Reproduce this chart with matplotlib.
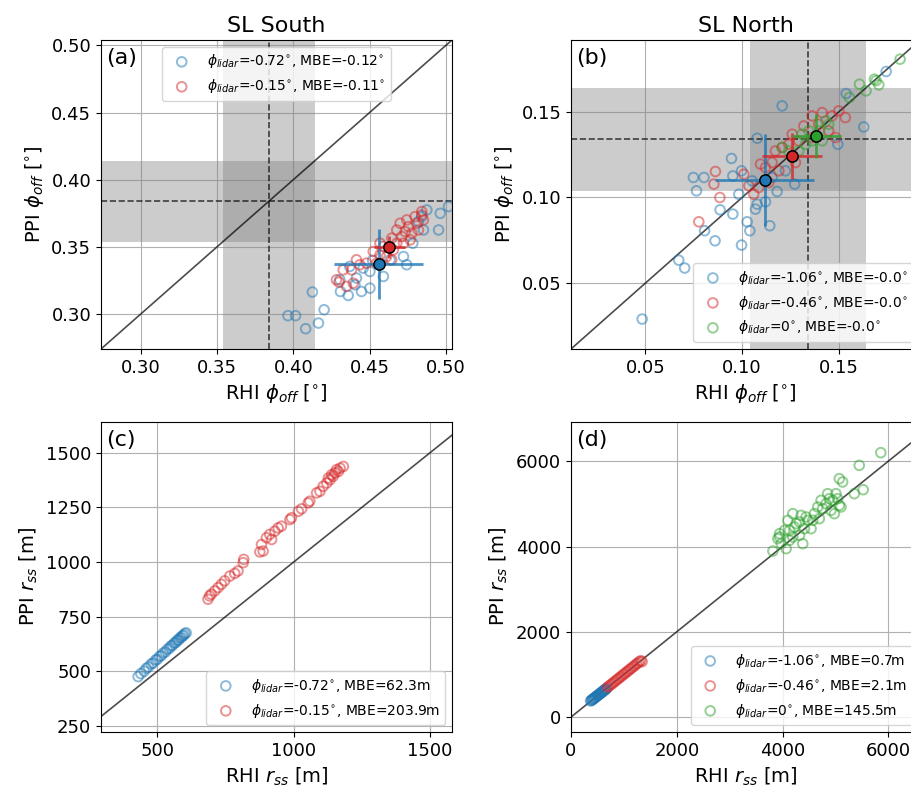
import numpy as np
import matplotlib.pyplot as plt

plt.rcParams['font.size'] = 13
plt.rcParams['axes.labelsize'] = 14

# ---- panel (a): SL South, phi_off
a_blue_x = [0.3965, 0.4015, 0.4081, 0.4165, 0.4125, 0.4202, 0.4309, 0.4360, 0.4404, 0.4447,
            0.4502, 0.4305, 0.4414, 0.4502, 0.4722, 0.4743, 0.4783, 0.4853, 0.4952, 0.4963,
            0.5017, 0.4875, 0.4842, 0.4820, 0.4458, 0.4370, 0.4520, 0.4590, 0.4634]
a_blue_y = [0.2988, 0.2988, 0.2891, 0.2933, 0.3164, 0.3032, 0.3168, 0.3139, 0.3218, 0.3168,
            0.3193, 0.3255, 0.3268, 0.3317, 0.3428, 0.3367, 0.3527, 0.3626, 0.3626, 0.3750,
            0.3800, 0.3775, 0.3725, 0.3688, 0.3342, 0.3354, 0.3400, 0.3280, 0.3404]
a_red_x = [0.4283, 0.4300, 0.4349, 0.4393, 0.4327, 0.4382, 0.4436, 0.4414, 0.4480, 0.4524,
           0.4568, 0.4590, 0.4656, 0.4678, 0.4711, 0.4733, 0.4700, 0.4755, 0.4777, 0.4809,
           0.4798, 0.4842, 0.4842, 0.4853, 0.4678, 0.4722, 0.4645, 0.4612, 0.4645, 0.4546,
           0.4766, 0.4820, 0.4568, 0.4744]
a_red_y = [0.3255, 0.3238, 0.3206, 0.3230, 0.3329, 0.3329, 0.3367, 0.3404, 0.3379, 0.3466,
           0.3441, 0.3503, 0.3478, 0.3527, 0.3577, 0.3614, 0.3676, 0.3651, 0.3602, 0.3676,
           0.3725, 0.3738, 0.3763, 0.3701, 0.3626, 0.3527, 0.3565, 0.3429, 0.3404, 0.3379,
           0.3552, 0.3626, 0.3528, 0.3701]
a_mean = [(0.456, 0.337, 0.029, 0.026), (0.463, 0.350, 0.010, 0.008)]
a_ref, a_ref_std = 0.384, 0.030
a_labels = [r'$\phi_{lidar}$=-0.72$^{\circ}$, MBE=-0.12$^{\circ}$',
            r'$\phi_{lidar}$=-0.15$^{\circ}$, MBE=-0.11$^{\circ}$']

# ---- panel (b): SL North, phi_off
b_blue_x = [0.0483, 0.0672, 0.0703, 0.0806, 0.0860, 0.0886, 0.0952, 0.0997, 0.1026, 0.1040,
            0.1069, 0.1078, 0.1121, 0.1143, 0.0748, 0.0803, 0.0764, 0.0945, 0.0952, 0.0997,
            0.1078, 0.1181, 0.1272, 0.1207, 0.1538, 0.1629, 0.1745, 0.1495, 0.0983, 0.1052,
            0.1155, 0.1224]
b_blue_y = [0.0290, 0.0634, 0.0588, 0.0806, 0.0747, 0.0928, 0.0903, 0.0722, 0.0858, 0.0806,
            0.0932, 0.0961, 0.0975, 0.0835, 0.1117, 0.1117, 0.1039, 0.1228, 0.1126, 0.1156,
            0.1346, 0.1035, 0.1078, 0.1535, 0.1607, 0.1412, 0.1736, 0.1311, 0.1019, 0.1097,
            0.1117, 0.1156]
b_red_x = [0.0776, 0.0885, 0.0854, 0.0862, 0.1009, 0.1035, 0.1086, 0.1095, 0.1121, 0.1155,
           0.1172, 0.1207, 0.1241, 0.1293, 0.1319, 0.1362, 0.1414, 0.1465, 0.1500, 0.1534,
           0.1483, 0.1448, 0.1396, 0.1259, 0.1362, 0.1060, 0.1138, 0.1190, 0.1276]
b_red_y = [0.0858, 0.1000, 0.1078, 0.1152, 0.1136, 0.1068, 0.1058, 0.1195, 0.1175, 0.1204,
           0.1272, 0.1292, 0.1311, 0.1331, 0.1418, 0.1477, 0.1496, 0.1477, 0.1506, 0.1467,
           0.1350, 0.1389, 0.1428, 0.1370, 0.1350, 0.1019, 0.1088, 0.1156, 0.1204]
b_green_x = [0.1817, 0.1684, 0.1707, 0.1641, 0.1607, 0.1555, 0.1434, 0.1400, 0.1362, 0.1328,
             0.1293, 0.1241, 0.1207, 0.1414, 0.1448, 0.1345, 0.1310, 0.1693]
b_green_y = [0.1808, 0.1691, 0.1658, 0.1623, 0.1662, 0.1584, 0.1447, 0.1389, 0.1331, 0.1311,
             0.1272, 0.1272, 0.1292, 0.1331, 0.1428, 0.1389, 0.1370, 0.1682]
b_mean = [(0.1116, 0.1101, 0.0256, 0.027), (0.1259, 0.1243, 0.0154, 0.0136),
          (0.1384, 0.1358, 0.0126, 0.0128)]
b_ref, b_ref_std = 0.134, 0.030
b_labels = [r'$\phi_{lidar}$=-1.06$^{\circ}$, MBE=-0.0$^{\circ}$',
            r'$\phi_{lidar}$=-0.46$^{\circ}$, MBE=-0.0$^{\circ}$',
            r'$\phi_{lidar}$=0$^{\circ}$, MBE=-0.0$^{\circ}$']

# ---- panel (c): SL South, r_ss
c_blue_x = [430, 440, 452, 460, 468, 478, 485, 494, 500, 508, 515, 522, 530, 537,
            545, 550, 556, 562, 568, 573, 578, 583, 588, 592, 597, 601, 606]
c_blue_y = [476, 490, 501, 514, 520, 534, 538, 552, 555, 568, 572, 584, 589, 601,
            606, 616, 619, 629, 632, 642, 643, 653, 655, 663, 665, 673, 676]
c_red_x = [686, 692, 698, 711, 723, 735, 747, 766, 784, 796, 815, 817, 876, 888, 882,
           900, 912, 919, 931, 943, 955, 986, 992, 1017, 1029, 1053, 1059, 1084, 1096,
           1108, 1121, 1127, 1139, 1151, 1157, 1170, 1182, 1164, 1145, 1133]
c_red_y = [830, 845, 853, 868, 883, 898, 914, 936, 948, 959, 997, 1012, 1046, 1050, 1080,
           1111, 1126, 1103, 1141, 1156, 1164, 1194, 1202, 1232, 1243, 1270, 1278, 1316, 1323,
           1346, 1361, 1384, 1399, 1407, 1422, 1429, 1437, 1414, 1392, 1376]
c_labels = [r'$\phi_{lidar}$=-0.72$^{\circ}$, MBE=62.3m',
            r'$\phi_{lidar}$=-0.15$^{\circ}$, MBE=203.9m']

# ---- panel (d): SL North, r_ss
d_blue_x = [370, 385, 398, 410, 422, 435, 447, 460, 472, 485, 497, 510, 522, 535,
            547, 560, 572, 585, 597, 610, 622, 635, 648, 660, 672]
d_blue_y = [378, 390, 404, 412, 428, 437, 452, 461, 476, 487, 500, 508, 525, 534,
            550, 558, 575, 583, 600, 606, 625, 632, 650, 656, 670]
d_red_x = [690, 720, 750, 780, 810, 840, 870, 900, 930, 960, 990, 1020, 1050, 1080,
           1110, 1140, 1170, 1200, 1230, 1260, 1290, 1320, 1345]
d_red_y = [700, 726, 758, 784, 818, 843, 878, 903, 938, 962, 998, 1022, 1058, 1082,
           1118, 1142, 1177, 1202, 1238, 1262, 1296, 1322, 1300]
d_green_x = [3818, 3912, 3944, 3975, 4069, 4132, 4132, 4195, 4101, 4226, 4258, 4321, 4383,
             4352, 4415, 4478, 4540, 4572, 4603, 4666, 4697, 4729, 4760, 4823, 4854, 4886,
             4917, 4949, 4980, 5011, 5043, 5074, 5106, 5074, 5137, 5357, 5451, 5526, 5859,
             4195, 4321, 4446, 3944, 4038]
d_green_y = [3894, 4184, 4223, 4066, 3949, 4145, 4379, 4223, 4614, 4457, 4536, 4262, 4066,
             4731, 4418, 4614, 4418, 4614, 4770, 4927, 4653, 5083, 4888, 5005, 5239, 5122,
             4848, 5083, 4770, 5239, 5122, 4966, 4927, 5591, 5513, 5239, 5904, 5333, 6201,
             4770, 4575, 4692, 4301, 4379]
d_labels = [r'$\phi_{lidar}$=-1.06$^{\circ}$, MBE=0.7m',
            r'$\phi_{lidar}$=-0.46$^{\circ}$, MBE=2.1m',
            r'$\phi_{lidar}$=0$^{\circ}$, MBE=145.5m']

colors = ['tab:blue', 'tab:red', 'tab:green']

fig = plt.figure(figsize=(9.12, 7.93), dpi=100)
W, H = 912, 793
def axpos(l, t, w, h):
    return fig.add_axes([l / W, 1 - (t + h) / H, w / W, h / H])

ax_a = axpos(101, 40, 351, 309)
ax_b = axpos(571, 40, 349, 309)
ax_c = axpos(101, 422, 351, 310)
ax_d = axpos(571, 422, 349, 310)


def scat(ax, xs, ys, labels):
    for i, (x, y) in enumerate(zip(xs, ys)):
        ax.scatter(x, y, s=48, facecolors='none', edgecolors=colors[i],
                   linewidths=1.4, alpha=0.5, label=labels[i], zorder=3)


def phi_panel(ax, xs, ys, means, ref, std, labels, lim, loc):
    ax.axvspan(ref - std, ref + std, color='gray', alpha=0.4, lw=0, zorder=1)
    ax.axhspan(ref - std, ref + std, color='gray', alpha=0.4, lw=0, zorder=1)
    ax.axvline(ref, color='k', ls='--', lw=1.2, alpha=0.7, zorder=2)
    ax.axhline(ref, color='k', ls='--', lw=1.2, alpha=0.7, zorder=2)
    ax.plot(lim, lim, color='k', lw=1.2, alpha=0.7, zorder=2)
    scat(ax, xs, ys, labels)
    for i, (mx, my, ex, ey) in enumerate(means):
        ax.errorbar(mx, my, xerr=ex, yerr=ey, fmt='o', color=colors[i], mec='k',
                    ms=8, elinewidth=2, alpha=0.8, zorder=4)
        ax.plot(mx, my, 'o', color=colors[i], mec='k', ms=8, zorder=5)
    ax.set_xlim(lim)
    ax.set_ylim(lim)
    ax.grid(True, zorder=0)
    ax.set_axisbelow(True)
    ax.set_xlabel(r'RHI $\phi_{off}$ [$^{\circ}$]')
    ax.set_ylabel(r'PPI $\phi_{off}$ [$^{\circ}$]')
    ax.legend(loc=loc, fontsize=10)


phi_panel(ax_a, [a_blue_x, a_red_x], [a_blue_y, a_red_y], a_mean, a_ref, a_ref_std,
          a_labels, (0.274, 0.504), 'upper center')
ax_a.set_xticks([0.30, 0.35, 0.40, 0.45, 0.50])
ax_a.set_yticks([0.30, 0.35, 0.40, 0.45, 0.50])
ax_a.set_title('SL South', fontsize=16)

phi_panel(ax_b, [b_blue_x, b_red_x, b_green_x], [b_blue_y, b_red_y, b_green_y], b_mean,
          b_ref, b_ref_std, b_labels, (0.0115, 0.192), 'lower right')
ax_b.set_xticks([0.05, 0.10, 0.15])
ax_b.set_yticks([0.05, 0.10, 0.15])
ax_b.set_title('SL North', fontsize=16)

# range panels
ax_c.plot([294, 1580], [294, 1580], color='k', lw=1.2, alpha=0.7, zorder=2)
scat(ax_c, [c_blue_x, c_red_x], [c_blue_y, c_red_y], c_labels)
ax_c.set_xlim(294, 1580)
ax_c.set_ylim(223, 1640)
ax_c.set_xticks([500, 1000, 1500])
ax_c.set_yticks([250, 500, 750, 1000, 1250, 1500])
ax_c.legend(loc='lower right', fontsize=10)

ax_d.plot([0, 7000], [0, 7000], color='k', lw=1.2, alpha=0.7, zorder=2)
scat(ax_d, [d_blue_x, d_red_x, d_green_x], [d_blue_y, d_red_y, d_green_y], d_labels)
ax_d.set_xlim(0, 6600)
ax_d.set_ylim(-350, 6920)
ax_d.set_xticks([0, 2000, 4000, 6000])
ax_d.set_yticks([0, 2000, 4000, 6000])
ax_d.legend(loc='lower right', fontsize=10)

for ax in (ax_c, ax_d):
    ax.grid(True)
    ax.set_axisbelow(True)
    ax.set_xlabel(r'RHI $r_{ss}$ [m]')
    ax.set_ylabel(r'PPI $r_{ss}$ [m]')

for ax, t in zip((ax_a, ax_b, ax_c, ax_d), ['(a)', '(b)', '(c)', '(d)']):
    ax.text(0.015, 0.975, t, transform=ax.transAxes, fontsize=16, va='top', ha='left')

fig.savefig('out.png', dpi=100)
